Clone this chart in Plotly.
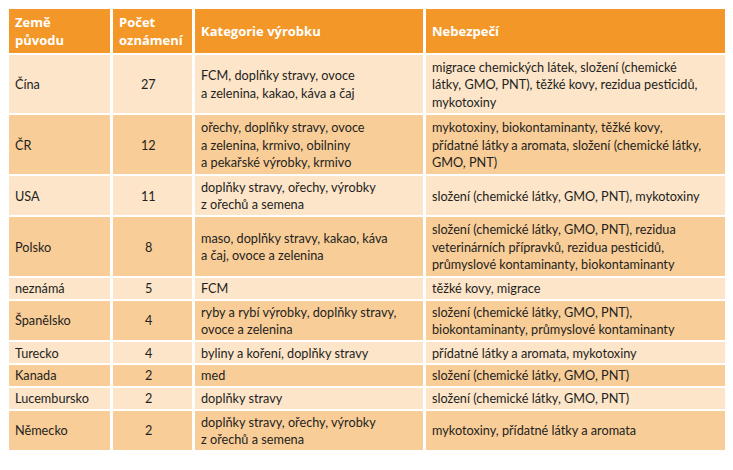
"""Table of notifications by country of origin."""

import numpy as np
import plotly.graph_objects as go

header = ["Země<br>původu", "Počet<br>oznámení", "Kategorie výrobku", "Nebezpečí"]

countries = [
    "Čína", "ČR", "USA", "Polsko", "neznámá",
    "Španělsko", "Turecko", "Kanada", "Lucembursko", "Německo",
]
counts = [27, 12, 11, 8, 5, 4, 4, 2, 2, 2]
categories = [
    "FCM, doplňky stravy, ovoce<br>a zelenina, kakao, káva a čaj",
    "ořechy, doplňky stravy, ovoce<br>a zelenina, krmivo, obilniny<br>a pekařské výrobky, krmivo",
    "doplňky stravy, ořechy, výrobky<br>z ořechů a semena",
    "maso, doplňky stravy, kakao, káva<br>a čaj, ovoce a zelenina",
    "FCM",
    "ryby a rybí výrobky, doplňky stravy,<br>ovoce a zelenina",
    "byliny a koření, doplňky stravy",
    "med",
    "doplňky stravy",
    "doplňky stravy, ořechy, výrobky<br>z ořechů a semena",
]
hazards = [
    "migrace chemických látek, složení (chemické<br>látky, GMO, PNT), těžké kovy, rezidua pesticidů,<br>mykotoxiny",
    "mykotoxiny, biokontaminanty, těžké kovy,<br>přídatné látky a aromata, složení (chemické látky,<br>GMO, PNT)",
    "složení (chemické látky, GMO, PNT), mykotoxiny",
    "složení (chemické látky, GMO, PNT), rezidua<br>veterinárních přípravků, rezidua pesticidů,<br>průmyslové kontaminanty, biokontaminanty",
    "těžké kovy, migrace",
    "složení (chemické látky, GMO, PNT),<br>biokontaminanty, průmyslové kontaminanty",
    "přídatné látky a aromata, mykotoxiny",
    "složení (chemické látky, GMO, PNT)",
    "složení (chemické látky, GMO, PNT)",
    "mykotoxiny, přídatné látky a aromata",
]

ORANGE, LIGHT, DARK = "#F39728", "#FDE5CA", "#F9CD98"
TEXT = "#231F20"
BODY_FONT = dict(family="Lato", size=12.7, color=TEXT)
HEAD_FONT = dict(family="Open Sans", size=13, color="white")

col_widths = [104, 81, 231, 315]
row_line_h, row_pad, header_h = 18.8, 4, 46
text_line_h, text_inset = 17.5, 5

# row heights follow the number of text lines in each row
n_lines = [max(s.count("<br>") + 1 for s in (c, h)) for c, h in zip(categories, hazards)]
row_h = [header_h] + [n * row_line_h + row_pad for n in n_lines]

x_edges = np.concatenate([[0], np.cumsum(col_widths)])
y_edges = np.concatenate([[0], np.cumsum(row_h)])
x_mid = (x_edges[:-1] + x_edges[1:]) / 2
y_mid = (y_edges[:-1] + y_edges[1:]) / 2

# 0 = header, 1 = light row, 2 = dark row
z = [[0] * 4] + [[1 + i % 2] * 4 for i in range(len(countries))]

fig = go.Figure(
    go.Heatmap(
        x=x_edges,
        y=y_edges,
        z=z,
        zmin=0,
        zmax=2,
        colorscale=[[0, ORANGE], [0.5, LIGHT], [1, DARK]],
        showscale=False,
        xgap=3,
        ygap=2,
        hoverinfo="skip",
    )
)


def add_cell_text(text, x, y, font, anchor="left", bold=False):
    """Write a cell's text one line at a time, centred vertically in the row."""
    lines = text.split("<br>")
    for k, line in enumerate(lines):
        fig.add_annotation(
            x=x,
            y=y + (k - (len(lines) - 1) / 2) * text_line_h,
            text=f"<b>{line}</b>" if bold else line,
            xanchor=anchor,
            yanchor="middle",
            showarrow=False,
            font=font,
        )


for j, title in enumerate(header):
    add_cell_text(title, x_edges[j] + text_inset, y_mid[0], HEAD_FONT, bold=True)

for i, (country, count, cat, haz) in enumerate(zip(countries, counts, categories, hazards)):
    y = y_mid[i + 1]
    add_cell_text(country, x_edges[0] + text_inset, y, BODY_FONT)
    add_cell_text(str(count), x_mid[1] - 4, y, BODY_FONT, anchor="center")
    add_cell_text(cat, x_edges[2] + text_inset, y, BODY_FONT)
    add_cell_text(haz, x_edges[3] + text_inset, y, BODY_FONT)

fig.update_xaxes(visible=False, range=[0, x_edges[-1]], fixedrange=True)
fig.update_yaxes(visible=False, range=[470, 0], fixedrange=True)
fig.update_layout(
    width=733,
    height=470,
    margin=dict(l=0, r=0, t=0, b=0),
    paper_bgcolor="white",
    plot_bgcolor="white",
)

fig.write_html("out.html")
